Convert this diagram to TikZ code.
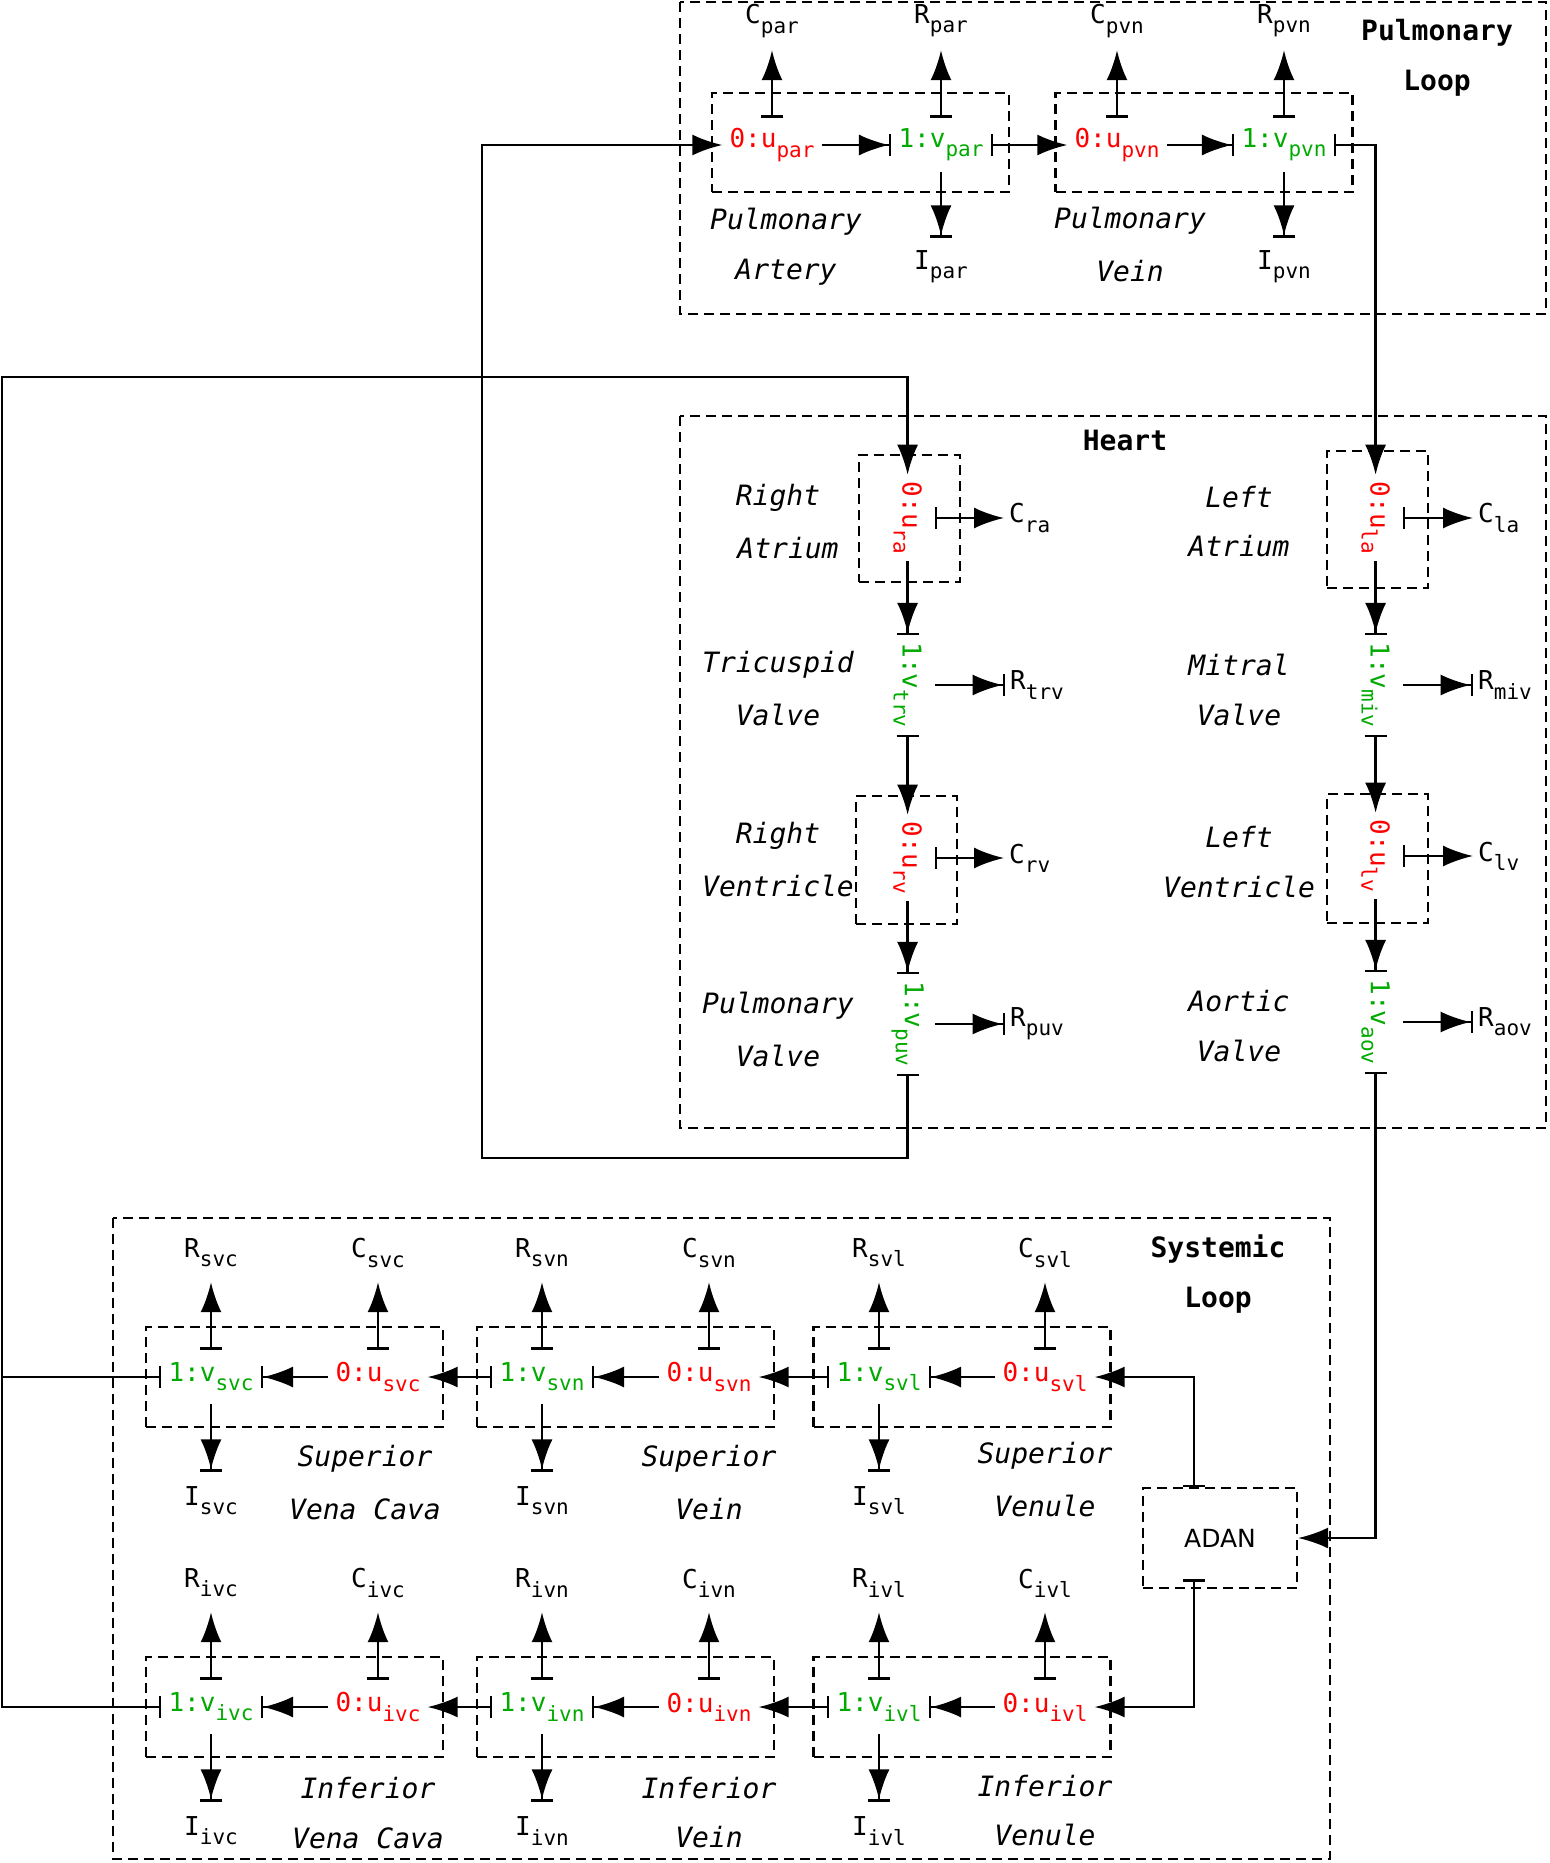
\documentclass[tikz,border=0pt]{standalone}
\usepackage{fontspec}
\setmainfont{DejaVu Sans Mono}
\newfontfamily\adanfont{DejaVu Sans}
\usetikzlibrary{arrows.meta}
\definecolor{ured}{RGB}{255,0,0}
\definecolor{vgreen}{RGB}{0,170,0}
\newcommand\sbs[1]{\raisebox{-0.35em}{\fontsize{10.5}{12}\selectfont #1}}

\begin{document}
\begin{tikzpicture}[x=0.5pt,y=-0.5pt,line width=1.2pt,font=\fontsize{13}{15}\selectfont]
    \tikzstyle{grp}=[draw,line width=1.1pt,dash pattern=on 5pt off 3pt,inner sep=0pt]
    \tikzstyle{uvar}=[text=ured,inner xsep=3pt,inner ysep=0pt,minimum height=26pt]
    \tikzstyle{vvar}=[uvar,text=vgreen]
    \tikzstyle{prm}=[inner sep=2pt,minimum height=28pt]
    \tikzstyle{organ}=[font=\fontsize{14}{16}\selectfont\itshape]
    \tikzstyle{title}=[font=\fontsize{14}{16}\selectfont\bfseries]
    \tikzstyle{tobar}=[-{Latex[length=15pt,width=10.5pt]Bar[width=11pt]}]
    \tikzstyle{frombar}=[{Bar[width=11pt]}-{Latex[length=15pt,width=10.5pt]}]
    \tikzstyle{barline}=[{Bar[width=11pt]}-]

    \useasboundingbox (0,0) rectangle (1549,1863);

    % Pulmonary loop
    \draw[grp] (680,2) rectangle (1546,314);
    \node[title] (pltitle1) at (1437,33) {Pulmonary};
    \node[title] (pltitle2) at (1437,83) {Loop};
    \node[grp,minimum width=148.5pt,minimum height=49.5pt] (bpar) at (860.5,142.5) {};
    \node[grp,minimum width=148.5pt,minimum height=49.5pt] (bpvn) at (1204,142.5) {};
    \node[uvar] (upar) at (772,145) {0:u\sbs{par}};
    \node[vvar] (vpar) at (941,145) {1:v\sbs{par}};
    \node[uvar] (upvn) at (1117,145) {0:u\sbs{pvn}};
    \node[vvar] (vpvn) at (1284,145) {1:v\sbs{pvn}};
    \node[prm] (Cpar) at (772,21) {C\sbs{par}};
    \node[prm] (Rpar) at (941,21) {R\sbs{par}};
    \node[prm] (Cpvn) at (1117,21) {C\sbs{pvn}};
    \node[prm] (Rpvn) at (1284,21) {R\sbs{pvn}};
    \node[prm] (Ipar) at (941,267) {I\sbs{par}};
    \node[prm] (Ipvn) at (1284,267) {I\sbs{pvn}};
    \node[organ] (npa1) at (786,222) {Pulmonary};
    \node[organ] (npa2) at (786,272) {Artery};
    \node[organ] (npv1) at (1130,221) {Pulmonary};
    \node[organ] (npv2) at (1130,271) {Vein};

    \draw[tobar] (upar) -- (vpar);
    \draw[frombar] (vpar) -- (upvn);
    \draw[tobar] (upvn) -- (vpvn);
    \draw[frombar] (upar) -- (Cpar);
    \draw[frombar] (vpar) -- (Rpar);
    \draw[frombar] (upvn) -- (Cpvn);
    \draw[frombar] (vpvn) -- (Rpvn);
    \draw[tobar] (vpar) -- (Ipar);
    \draw[tobar] (vpvn) -- (Ipvn);

    % Heart
    \draw[grp] (680,416) rectangle (1546,1128);
    \node[title] (httitle) at (1125,440) {Heart};
    \node[grp,minimum width=50.5pt,minimum height=63.5pt] (bra) at (909.5,518.5) {};
    \node[grp,minimum width=50.5pt,minimum height=64pt] (brv) at (906.5,860) {};
    \node[grp,minimum width=50.5pt,minimum height=68.5pt] (bla) at (1377.5,519.5) {};
    \node[grp,minimum width=50.5pt,minimum height=64.5pt] (blv) at (1377.5,858.5) {};

    \node[uvar,rotate=-90] (ura) at (907.6,518) {0:u\sbs{ra}};
    \node[vvar,rotate=-90] (vtrv) at (907.6,685) {1:v\sbs{trv}};
    \node[uvar,rotate=-90] (urv) at (907.6,858) {0:u\sbs{rv}};
    \node[vvar,rotate=-90] (vpuv) at (907.6,1024) {1:v\sbs{puv}};
    \node[uvar,rotate=-90] (ula) at (1375.6,518) {0:u\sbs{la}};
    \node[vvar,rotate=-90] (vmiv) at (1375.6,685) {1:v\sbs{miv}};
    \node[uvar,rotate=-90] (ulv) at (1375.6,856) {0:u\sbs{lv}};
    \node[vvar,rotate=-90] (vaov) at (1375.6,1022) {1:v\sbs{aov}};

    \node[prm,anchor=west] (Cra) at (1004,518) {C\sbs{ra}};
    \node[prm,anchor=west] (Rtrv) at (1005,685) {R\sbs{trv}};
    \node[prm,anchor=west] (Crv) at (1004,858) {C\sbs{rv}};
    \node[prm,anchor=west] (Rpuv) at (1005,1024) {R\sbs{puv}};
    \node[prm,anchor=west] (Cla) at (1473,518) {C\sbs{la}};
    \node[prm,anchor=west] (Rmiv) at (1473,685) {R\sbs{miv}};
    \node[prm,anchor=west] (Clv) at (1473,856) {C\sbs{lv}};
    \node[prm,anchor=west] (Raov) at (1473,1022) {R\sbs{aov}};

    \node[organ] (nra1) at (778,498) {Right};
    \node[organ] (nra2) at (788,548) {Atrium};
    \node[organ] (ntv1) at (778,665) {Tricuspid};
    \node[organ] (ntv2) at (778,715) {Valve};
    \node[organ] (nrv1) at (778,836) {Right};
    \node[organ] (nrv2) at (778,886) {Ventricle};
    \node[organ] (npu1) at (778,1006) {Pulmonary};
    \node[organ] (npu2) at (778,1056) {Valve};
    \node[organ] (nla1) at (1239,497) {Left};
    \node[organ] (nla2) at (1239,546) {Atrium};
    \node[organ] (nmv1) at (1239,665) {Mitral};
    \node[organ] (nmv2) at (1239,715) {Valve};
    \node[organ] (nlv1) at (1239,837) {Left};
    \node[organ] (nlv2) at (1239,887) {Ventricle};
    \node[organ] (nao1) at (1239,1001) {Aortic};
    \node[organ] (nao2) at (1239,1051) {Valve};

    \draw[tobar] (ura) -- (vtrv);
    \draw[frombar] (vtrv) -- (urv);
    \draw[tobar] (urv) -- (vpuv);
    \draw[frombar] (ura) -- (Cra);
    \draw[tobar] (vtrv) -- (Rtrv);
    \draw[frombar] (urv) -- (Crv);
    \draw[tobar] (vpuv) -- (Rpuv);
    \draw[tobar] (ula) -- (vmiv);
    \draw[frombar] (vmiv) -- (ulv);
    \draw[tobar] (ulv) -- (vaov);
    \draw[frombar] (ula) -- (Cla);
    \draw[tobar] (vmiv) -- (Rmiv);
    \draw[frombar] (ulv) -- (Clv);
    \draw[tobar] (vaov) -- (Raov);

    % Systemic loop
    \draw[grp] (113,1218) rectangle (1330,1859);
    \node[title] (sltitle1) at (1218,1249) {Systemic};
    \node[title] (sltitle2) at (1218,1300) {Loop};
    \node[grp,minimum width=77pt,minimum height=50pt,font=\adanfont\fontsize{12.5}{14}\selectfont] (adan) at (1220,1538) {ADAN};

    \foreach \r/\y in {s/1377,i/1707}
        \foreach \seg/\vx/\ux in {vc/211/378,vn/542/709,vl/879/1045} {
            \node[grp,minimum width=148.5pt,minimum height=50pt] (b\r\seg) at ({(\vx+\ux)/2},\y) {};
            \node[vvar] (v\r\seg) at (\vx,\y) {1:v\sbs{\r\seg}};
            \node[uvar] (u\r\seg) at (\ux,\y) {0:u\sbs{\r\seg}};
            \node[prm] (R\r\seg) at (\vx,\y-124) {R\sbs{\r\seg}};
            \node[prm] (C\r\seg) at (\ux,\y-124) {C\sbs{\r\seg}};
            \node[prm] (I\r\seg) at (\vx,\y+124) {I\sbs{\r\seg}};
            \draw[tobar] (u\r\seg) -- (v\r\seg);
            \draw[frombar] (v\r\seg) -- (R\r\seg);
            \draw[frombar] (u\r\seg) -- (C\r\seg);
            \draw[tobar] (v\r\seg) -- (I\r\seg);
        }
    \draw[frombar] (vsvn) -- (usvc);
    \draw[frombar] (vsvl) -- (usvn);
    \draw[frombar] (vivn) -- (uivc);
    \draw[frombar] (vivl) -- (uivn);

    \node[organ] (nsc1) at (365,1459) {Superior};
    \node[organ] (nsc2) at (365,1509) {Vena Cava};
    \node[organ] (nsn1) at (709,1459) {Superior};
    \node[organ] (nsn2) at (709,1509) {Vein};
    \node[organ] (nsl1) at (1045,1456) {Superior};
    \node[organ] (nsl2) at (1045,1506) {Venule};
    \node[organ] (nic1) at (368,1788) {Inferior};
    \node[organ] (nic2) at (368,1838) {Vena Cava};
    \node[organ] (nin1) at (709,1788) {Inferior};
    \node[organ] (nin2) at (709,1837) {Vein};
    \node[organ] (nil1) at (1045,1786) {Inferior};
    \node[organ] (nil2) at (1045,1835) {Venule};

    % Loops between the parts
    \coordinate (lftop) at (2,377);
    \coordinate (pvturn) at (482,1158);
    \draw[frombar] (vsvc) -| (lftop) -| (ura);
    \draw[barline] (vivc) -| (lftop);
    \draw[frombar] (vpuv) |- (pvturn) |- (upar);
    \draw[frombar] (vpvn) -| (ula);
    \draw[frombar] (vaov) |- (adan);
    \draw[frombar] ([xshift=-13pt]adan.north) |- (usvl);
    \draw[frombar] ([xshift=-13pt,yshift=5pt]adan.south) |- (uivl);
\end{tikzpicture}
\end{document}
